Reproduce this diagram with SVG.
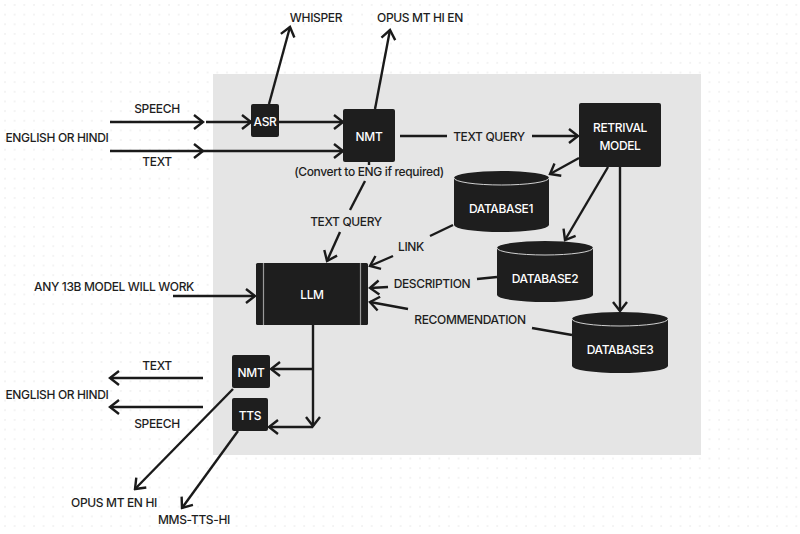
<svg xmlns="http://www.w3.org/2000/svg" width="800" height="534" viewBox="0 0 800 534">
<defs>
<pattern id="dots" x="4" y="4" width="9.65" height="9.65" patternUnits="userSpaceOnUse">
<circle cx="1" cy="1" r="0.7" fill="#e0e0e0"/>
</pattern>
<marker id="arr" viewBox="-11 -9 13 18" refX="0" refY="0" markerWidth="13" markerHeight="18" markerUnits="userSpaceOnUse" orient="auto">
<path d="M-9,-7 L0,0 L-9,7" fill="none" stroke="#1a1a1a" stroke-width="2.4" stroke-linejoin="miter"/>
</marker>
<style>
.lbl{font-family:Inter,"Liberation Sans",sans-serif;font-size:12px;font-weight:500;fill:#1e1e1e;text-anchor:middle;dominant-baseline:central;letter-spacing:-0.35px}
.ntx{font-family:Inter,"Liberation Sans",sans-serif;font-size:12px;font-weight:500;fill:#ffffff;text-anchor:middle;dominant-baseline:central;letter-spacing:-0.35px}
.box{fill:#1e1e1e}
.cyl{fill:#1e1e1e}
.rim{fill:none;stroke:#cfcfcf;stroke-width:1}
.ln{fill:none;stroke:#1a1a1a;stroke-width:2.4}
.la{fill:none;stroke:#1a1a1a;stroke-width:2.4;marker-end:url(#arr)}
</style>
</defs>
<rect width="800" height="534" fill="#ffffff"/>
<rect width="800" height="534" fill="url(#dots)"/>
<rect x="213" y="74" width="488" height="381" fill="#e5e5e5"/>

<g id="connectors">
<line class="la" x1="110" y1="122" x2="203" y2="122"/>
<line class="la" x1="206" y1="122" x2="251" y2="122"/>
<line class="la" x1="279" y1="122" x2="343" y2="122"/>
<line class="la" x1="110" y1="151" x2="203" y2="151"/>
<line class="la" x1="203" y1="151" x2="343" y2="151"/>
<line class="la" x1="269" y1="104" x2="290" y2="27"/>
<line class="la" x1="375" y1="109" x2="390" y2="30"/>
<line class="ln" x1="400" y1="136" x2="447" y2="136"/>
<line class="la" x1="532" y1="136" x2="578" y2="136"/>
<line class="la" x1="579" y1="158" x2="550" y2="174"/>
<line class="la" x1="608" y1="167" x2="565" y2="240"/>
<line class="la" x1="620" y1="167" x2="620" y2="311"/>
<line class="ln" x1="369" y1="162" x2="369" y2="165"/>
<line class="ln" x1="365" y1="181" x2="350" y2="210"/>
<line class="la" x1="340" y1="232" x2="327" y2="261"/>
<line class="ln" x1="453" y1="225" x2="430" y2="236"/>
<line class="la" x1="393" y1="256" x2="370" y2="266"/>
<line class="ln" x1="497" y1="277" x2="477" y2="279"/>
<line class="la" x1="388" y1="287" x2="370" y2="288"/>
<line class="ln" x1="572" y1="335" x2="532" y2="328"/>
<line class="la" x1="408" y1="309" x2="370" y2="302"/>
<line class="la" x1="173" y1="296" x2="255" y2="296"/>
<line class="la" x1="313" y1="325" x2="313" y2="426"/>
<line class="la" x1="313" y1="369" x2="271" y2="369"/>
<line class="la" x1="313" y1="427" x2="269" y2="427"/>
<line class="la" x1="203" y1="378" x2="110" y2="378"/>
<line class="la" x1="203" y1="407" x2="110" y2="407"/>
<line class="la" x1="233" y1="389" x2="135" y2="489"/>
<line class="la" x1="238" y1="431" x2="182" y2="508"/>
</g>

<g id="labels">
<text class="lbl" x="157" y="108">SPEECH</text>
<text class="lbl" x="157" y="161">TEXT</text>
<text class="lbl" x="57" y="137">ENGLISH OR HINDI</text>
<text class="lbl" x="316" y="17">WHISPER</text>
<text class="lbl" x="420" y="17">OPUS MT HI EN</text>
<text class="lbl" x="489" y="136">TEXT QUERY</text>
<text class="lbl" x="369" y="171">(Convert to ENG if required)</text>
<text class="lbl" x="346" y="221">TEXT QUERY</text>
<text class="lbl" x="411" y="246">LINK</text>
<text class="lbl" x="432" y="283">DESCRIPTION</text>
<text class="lbl" x="470" y="319">RECOMMENDATION</text>
<text class="lbl" x="114" y="286">ANY 13B MODEL WILL WORK</text>
<text class="lbl" x="157" y="365">TEXT</text>
<text class="lbl" x="57" y="394">ENGLISH OR HINDI</text>
<text class="lbl" x="157" y="423">SPEECH</text>
<text class="lbl" x="114" y="502">OPUS MT EN HI</text>
<text class="lbl" x="194" y="519">MMS-TTS-HI</text>
</g>

<g id="asr">
<rect class="box" x="251" y="104" width="28" height="33" rx="2"/>
<text class="ntx" x="265" y="121">ASR</text>
</g>
<g id="nmt-in">
<rect class="box" x="343" y="109" width="52" height="53" rx="2"/>
<text class="ntx" x="369" y="136">NMT</text>
</g>
<g id="retrival-model">
<rect class="box" x="579" y="103" width="82" height="64" rx="2"/>
<text class="ntx" x="620" y="127">RETRIVAL</text>
<text class="ntx" x="620" y="145">MODEL</text>
</g>
<g id="database1">
<path class="cyl" d="M454,178 A47.5,7 0 0 1 549,178 L549,225 A47.5,7 0 0 1 454,225 Z"/>
<path class="rim" d="M454,178 A47.5,7 0 0 0 549,178"/>
<text class="ntx" x="501" y="208">DATABASE1</text>
</g>
<g id="database2">
<path class="cyl" d="M497,248 A48,7 0 0 1 593,248 L593,295 A48,7 0 0 1 497,295 Z"/>
<path class="rim" d="M497,248 A48,7 0 0 0 593,248"/>
<text class="ntx" x="545" y="278">DATABASE2</text>
</g>
<g id="database3">
<path class="cyl" d="M572,319 A48,7 0 0 1 668,319 L668,366 A48,7 0 0 1 572,366 Z"/>
<path class="rim" d="M572,319 A48,7 0 0 0 668,319"/>
<text class="ntx" x="620" y="349">DATABASE3</text>
</g>
<g id="llm">
<rect class="box" x="256" y="263" width="112" height="62" rx="1.5"/>
<line x1="263.5" y1="263" x2="263.5" y2="325" stroke="#9a9a9a" stroke-width="1.2"/>
<line x1="360.5" y1="263" x2="360.5" y2="325" stroke="#9a9a9a" stroke-width="1.2"/>
<text class="ntx" x="312" y="294">LLM</text>
</g>
<g id="nmt-out">
<rect class="box" x="232" y="355" width="38" height="33" rx="2"/>
<text class="ntx" x="251" y="372">NMT</text>
</g>
<g id="tts">
<rect class="box" x="232" y="398" width="36" height="33" rx="2"/>
<text class="ntx" x="250" y="415">TTS</text>
</g>
</svg>
